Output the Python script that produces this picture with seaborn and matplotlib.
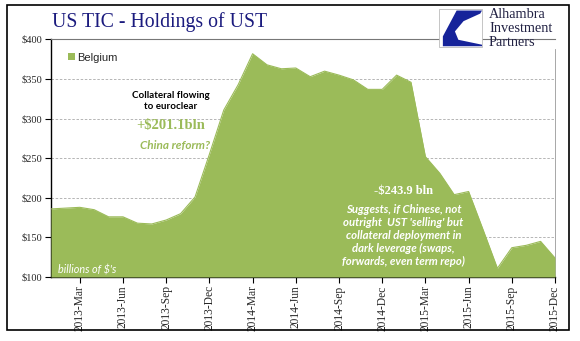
import matplotlib
matplotlib.use("Agg")
import matplotlib.pyplot as plt
import matplotlib.patches as mpatches
import numpy as np
import pandas as pd
import seaborn as sns

# ---- data (billions of $, monthly Jan 2013 .. Dec 2015) ----
months = pd.date_range("2013-01-01", "2015-12-01", freq="MS").strftime("%Y-%b").tolist()
belgium = [186, 187, 188, 185, 176, 176, 168, 167, 172, 180, 201, 255,
           311, 343, 382, 368, 363, 364, 353, 360, 355, 349, 337, 337,
           355, 346, 252, 231, 204, 208, 160, 111, 137, 140, 145, 124]
tick_labels = ["2013-Mar", "2013-Jun", "2013-Sep", "2013-Dec",
               "2014-Mar", "2014-Jun", "2014-Sep", "2014-Dec",
               "2015-Mar", "2015-Jun", "2015-Sep", "2015-Dec"]
y_ticks = [100, 150, 200, 250, 300, 350, 400]

GREEN = "#9BBB59"
NAVY = "#1B1B7E"

sns.set_style("white")
plt.rcParams["font.family"] = ["DejaVu Sans"]

df = pd.DataFrame({"month": months, "idx": np.arange(len(months)), "value": belgium})

fig = plt.figure(figsize=(5.8, 3.41), dpi=100)
ax = fig.add_axes([51 / 580, 1 - 277 / 341, 504 / 580, (277 - 39.5) / 341])
ax.set_axisbelow(True)

sns.lineplot(data=df, x="idx", y="value", ax=ax, color=GREEN, linewidth=0.8, zorder=4)
ax.fill_between(df["idx"], df["value"], 100, color=GREEN, zorder=3, linewidth=0, label="Belgium")

ax.set_xlim(0, len(months) - 1)
ax.set_ylim(100, 400)
ax.set_xlabel("")
ax.set_ylabel("")

# y axis
ax.set_yticks(y_ticks)
ax.set_yticklabels([f"${v}" for v in y_ticks], family="Liberation Serif", fontsize=7.5)
for v in y_ticks[1:-1]:
    ax.axhline(v, color="#AAAAAA", linewidth=0.6, linestyle=(0, (3, 2)), zorder=1)

# x axis
tick_pos = [months.index(t) for t in tick_labels]
ax.set_xticks(tick_pos)
ax.set_xticklabels(tick_labels, rotation=90, family="Liberation Serif", fontsize=8.3)

ax.tick_params(axis="y", which="both", left=True, length=4, width=0.8, color="black", pad=2)
ax.tick_params(axis="x", which="both", bottom=True, length=4, width=0.8, color="black", pad=2)

for s in ["left", "bottom"]:
    ax.spines[s].set_color("black")
    ax.spines[s].set_linewidth(1.0)
ax.spines["top"].set_color("#777777")
ax.spines["top"].set_linewidth(0.8)
ax.spines["right"].set_color("#999999")
ax.spines["right"].set_linewidth(0.6)
ax.spines["right"].set_bounds(100, 388)

# legend
leg = ax.legend(loc="center left", bbox_to_anchor=(0.025, 0.924), frameon=False,
                fontsize=8, handlelength=0.65, handleheight=0.65, handletextpad=0.2,
                borderaxespad=0)
for t in leg.get_texts():
    t.set_family("Liberation Sans")

# annotations
ax.text(0.2375, 0.742, "Collateral flowing\nto euroclear", transform=ax.transAxes,
        ha="center", va="center", family="Lato", fontweight="bold", fontsize=7,
        color="black", linespacing=1.25, zorder=5)
ax.text(0.2375, 0.636, "+$201.1bln", transform=ax.transAxes, ha="center", va="center",
        family="Liberation Serif", fontweight="bold", fontsize=10.5, color=GREEN, zorder=5)
ax.text(0.246, 0.555, "China reform?", transform=ax.transAxes, ha="center", va="center",
        family="Lato", fontweight="bold", style="italic", fontsize=8.5, color=GREEN, zorder=5)
ax.text(0.699, 0.362, "-$243.9 bln", transform=ax.transAxes, ha="center", va="center",
        family="Liberation Serif", fontweight="bold", fontsize=9, color="white", zorder=5)
ax.text(0.699, 0.176,
        "Suggests, if Chinese, not\noutright  UST 'selling' but\ncollateral deployment in\n"
        "dark leverage (swaps,\nforwards, even term repo)",
        transform=ax.transAxes, ha="center", va="center", family="Lato",
        fontweight="bold", style="italic", fontsize=8.2, color="white",
        linespacing=1.22, zorder=5)
ax.text(0.014, 0.028, "billions of $'s", transform=ax.transAxes, ha="left", va="center",
        family="Lato", style="italic", fontsize=7.8, color="white", zorder=5)

# title
fig.text(52 / 580, 1 - 22 / 341, "US TIC - Holdings of UST", ha="left", va="center",
         family="Liberation Serif", fontsize=14.2, color=NAVY)

# logo
lx0, ly0, lw, lh = 439 / 580, 1 - 47 / 341, 43 / 580, 38 / 341
fig.patches.append(mpatches.Rectangle((lx0, ly0), lw, lh, transform=fig.transFigure,
                                      facecolor="white", edgecolor="#BBBBBB",
                                      linewidth=0.6, zorder=10))
shape = [(0.41, 0.96), (1.0, 0.96), (0.96, 0.88), (0.57, 0.68), (0.37, 0.41),
         (0.45, 0.19), (1.0, 0.06), (1.0, 0.02), (0.09, 0.02), (0.09, 0.28)]
shape_fig = [(lx0 + px * lw, ly0 + py * lh) for px, py in shape]
fig.patches.append(mpatches.Polygon(shape_fig, closed=True, transform=fig.transFigure,
                                    facecolor="#16239A", edgecolor="none", zorder=11))
for i, word in enumerate(["Alhambra", "Investment", "Partners"]):
    fig.text(489 / 580, 1 - (15 + 13.5 * i) / 341, word, ha="left", va="center",
             family="Liberation Serif", fontsize=10.3, color="#222244")

# outer border
fig.patches.append(mpatches.Rectangle((6.5 / 580, 1 - 330 / 341), 562.5 / 580, 325 / 341,
                                      transform=fig.transFigure, facecolor="none",
                                      edgecolor="black", linewidth=1.2, zorder=0))

fig.savefig("out.png", dpi=100)
